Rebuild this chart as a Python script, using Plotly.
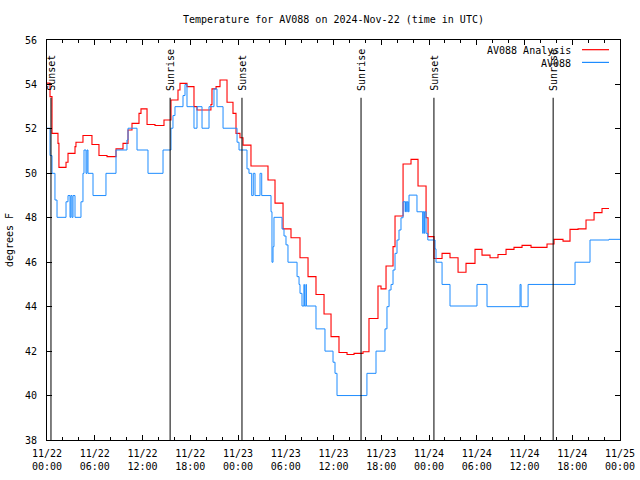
import pandas as pd
import plotly.graph_objects as go

# ---- data (hours since 2024-11-22 00:00 UTC, value in deg F) ----
analysis_hours = [0.0, 0.38, 0.63, 1.38, 1.5, 2.39, 2.64, 3.52, 3.64, 4.52, 5.65, 6.53, 7.54, 8.67,
                  9.55, 10.18, 10.68, 11.56, 11.81, 12.57, 13.57, 14.7, 15.58, 16.46, 16.71, 17.59,
                  18.47, 18.85, 20.6, 20.73, 21.24, 21.74, 22.62, 23.37, 23.75, 24.25, 24.63, 25.63,
                  27.77, 28.65, 29.66, 30.66, 31.79, 32.8, 33.8, 34.81, 35.69, 36.69, 37.7, 38.58,
                  39.71, 40.46, 41.59, 41.97, 42.6, 43.48, 43.73, 44.74, 45.74, 46.62, 47.63, 47.88,
                  48.63, 49.64, 50.64, 51.65, 52.65, 53.78, 54.66, 55.67, 56.67, 57.68, 58.68, 59.69,
                  60.82, 62.83, 63.71, 64.84, 65.72, 66.73, 67.73, 68.74, 69.74, 70.62]
analysis_temp = [54.06, 53.45, 51.8, 51.35, 50.27, 50.5, 50.9, 51.2, 51.4, 51.7, 51.3, 50.8, 50.75, 51.1,
                 51.35, 51.95, 52.25, 52.7, 52.9, 52.2, 52.15, 52.4, 53.3, 53.75, 54.05, 53.9,
                 53.0, 52.85, 53.1, 53.8, 53.9, 54.2, 53.2, 52.7, 51.8, 51.6, 51.27, 50.33,
                 49.7, 48.66, 47.5, 47.1, 46.2, 45.35, 44.55, 43.67, 42.65, 41.94, 41.85, 41.9,
                 41.97, 43.47, 44.93, 44.8, 45.83, 46.7, 48.08, 50.42, 50.63, 49.43, 48.0, 47.15,
                 46.17, 46.4, 46.2, 45.55, 45.95, 46.58, 46.32, 46.2, 46.35, 46.58, 46.67, 46.76,
                 46.67, 46.82, 47.03, 46.95, 47.48, 47.5, 47.9, 48.23, 48.42, 48.42]

obs_hours = [0.0, 0.38, 0.63, 1.0, 1.26, 2.39, 2.64, 2.89, 3.0, 3.14,
             3.27, 3.52, 4.27, 4.52, 4.65, 4.9, 5.03, 5.15, 5.78, 7.41,
             8.67, 10.05, 10.18, 11.31, 12.69, 14.58, 15.58, 15.83, 16.08, 17.09,
             17.34, 17.59, 18.47, 18.85, 19.48, 20.36, 20.98, 21.36, 22.12, 23.88,
             24.13, 25.13, 25.38, 25.72, 25.92, 26.14, 26.77, 26.98, 28.15, 28.27,
             28.4, 28.52, 29.53, 29.78, 30.03, 30.28, 31.42, 31.67, 31.79, 32.04,
             32.29, 32.34, 32.54, 32.59, 33.8, 34.93, 35.94, 36.19, 36.44, 40.2,
             41.34, 42.47, 42.72, 42.98, 43.23, 43.48, 43.73, 43.98, 44.23, 44.48,
             44.74, 45.0, 45.05, 45.2, 45.26, 45.4, 45.49, 46.49, 47.21, 47.27,
             47.41, 47.47, 47.63, 47.85, 48.76, 48.88, 49.64, 50.64, 54.03, 55.29,
             59.44, 59.57, 60.45, 66.35, 68.23, 70.62, 72.0]
obs_temp = [52.03, 50.8, 50.0, 48.8, 48.02, 48.72, 49.0, 48.02, 49.0, 48.02,
            49.0, 48.02, 48.72, 50.0, 51.05, 50.0, 51.05, 50.0, 49.0, 50.0,
            51.05, 51.5, 52.03, 51.05, 50.0, 51.05, 52.03, 52.6, 53.0, 53.5,
            54.0, 53.0, 52.03, 53.0, 52.03, 53.0, 53.8, 53.0, 52.03, 51.4,
            51.05, 50.2, 50.0, 49.0, 50.0, 49.0, 50.0, 49.0, 48.27, 46.0,
            46.7, 48.02, 47.5, 47.18, 46.78, 46.0, 45.35, 45.0, 44.6, 44.03,
            45.0, 44.03, 45.0, 44.03, 43.0, 42.0, 41.5, 41.0, 40.0, 41.0,
            42.0, 43.0, 44.0, 44.75, 45.0, 45.65, 46.4, 47.0, 47.45, 48.0,
            48.72, 48.27, 48.72, 48.27, 48.72, 48.27, 49.02, 48.27, 47.3, 48.27,
            47.3, 48.27, 47.3, 47.0, 46.6, 46.0, 45.0, 44.03, 45.0, 44.0,
            45.0, 44.0, 45.0, 46.0, 47.0, 47.03, 47.03]

sun_hours = [0.5, 15.47, 24.5, 39.46, 48.62, 63.6]
sun_labels = ["Sunset", "Sunrise", "Sunset", "Sunrise", "Sunset", "Sunrise"]

tick_hours = [0, 6, 12, 18, 24, 30, 36, 42, 48, 54, 60, 66, 72]
tick_labels = ["11/22<br>00:00", "11/22<br>06:00", "11/22<br>12:00", "11/22<br>18:00",
               "11/23<br>00:00", "11/23<br>06:00", "11/23<br>12:00", "11/23<br>18:00",
               "11/24<br>00:00", "11/24<br>06:00", "11/24<br>12:00", "11/24<br>18:00",
               "11/25<br>00:00"]

base = pd.Timestamp("2024-11-22 00:00")


def to_time(hours):
    return [base + pd.Timedelta(hours=h) for h in hours]


FONT = "DejaVu Sans Mono"
FS = 10
fig = go.Figure()
fig.add_trace(go.Scatter(x=to_time(analysis_hours), y=analysis_temp, mode="lines",
                         line=dict(color="#ff0000", width=1.1, shape="hv"),
                         name="AV088 Analysis", showlegend=False))
fig.add_trace(go.Scatter(x=to_time(obs_hours), y=obs_temp, mode="lines",
                         line=dict(color="#1e8cff", width=1.0, shape="hv"),
                         name="AV088", showlegend=False))

for h, lab in zip(sun_hours, sun_labels):
    t = base + pd.Timedelta(hours=h)
    fig.add_shape(type="line", xref="x", yref="y", x0=t, x1=t, y0=38, y1=53.4,
                  line=dict(color="black", width=1))
    fig.add_annotation(x=t, y=53.62, xref="x", yref="y", text=lab, textangle=-90,
                       showarrow=False, xanchor="center", yanchor="bottom", xshift=1,
                       font=dict(family=FONT, size=FS, color="black"))

# gnuplot-style legend (text then sample)
legend_items = [("AV088 Analysis", "#ff0000", 0.975, 0.9758),
                ("AV088", "#1e8cff", 0.9425, 0.944)]
for txt, col, ty, ly in legend_items:
    fig.add_annotation(x=0.918, y=ty, xref="paper", yref="paper", text=txt, showarrow=False,
                       xanchor="right", yanchor="middle",
                       font=dict(family=FONT, size=FS, color="black"))
    fig.add_shape(type="line", xref="paper", yref="paper", x0=0.9337, x1=0.9808, y0=ly, y1=ly,
                  line=dict(color=col, width=1.2))

fig.update_layout(
    width=640, height=480,
    margin=dict(l=47, r=20, t=40, b=40, autoexpand=False),
    paper_bgcolor="white", plot_bgcolor="white",
    font=dict(family=FONT, size=FS, color="black"),
    title=dict(text="Temperature for AV088 on 2024-Nov-22 (time in UTC)", x=0.521, xref="container",
               xanchor="center", y=0.96, yref="container", yanchor="middle",
               font=dict(family=FONT, size=FS)),
    showlegend=False,
)
fig.update_xaxes(
    automargin=False,
    range=[base, base + pd.Timedelta(hours=72)],
    tickmode="array", tickvals=to_time(tick_hours), ticktext=tick_labels,
    ticks="inside", ticklen=5, tickcolor="black", showline=True, linecolor="black", linewidth=1,
    mirror="ticks", showgrid=False, zeroline=False, ticklabelstandoff=4,
    minor=dict(ticks="inside", ticklen=3, dtick=2 * 3600 * 1000, tickcolor="black", showgrid=False),
)
fig.update_yaxes(
    automargin=False,
    range=[38, 56], tickmode="linear", tick0=38, dtick=2,
    ticks="inside", ticklen=5, tickcolor="black", showline=True, linecolor="black", linewidth=1,
    mirror="ticks", showgrid=False, zeroline=False,
    title=dict(text="degrees F", standoff=9, font=dict(family=FONT, size=FS)),
    ticklabelstandoff=7,
)

fig.write_html("out.html", config={"displayModeBar": False},
               post_script="document.body.style.margin='0';document.body.style.overflow='hidden';")
